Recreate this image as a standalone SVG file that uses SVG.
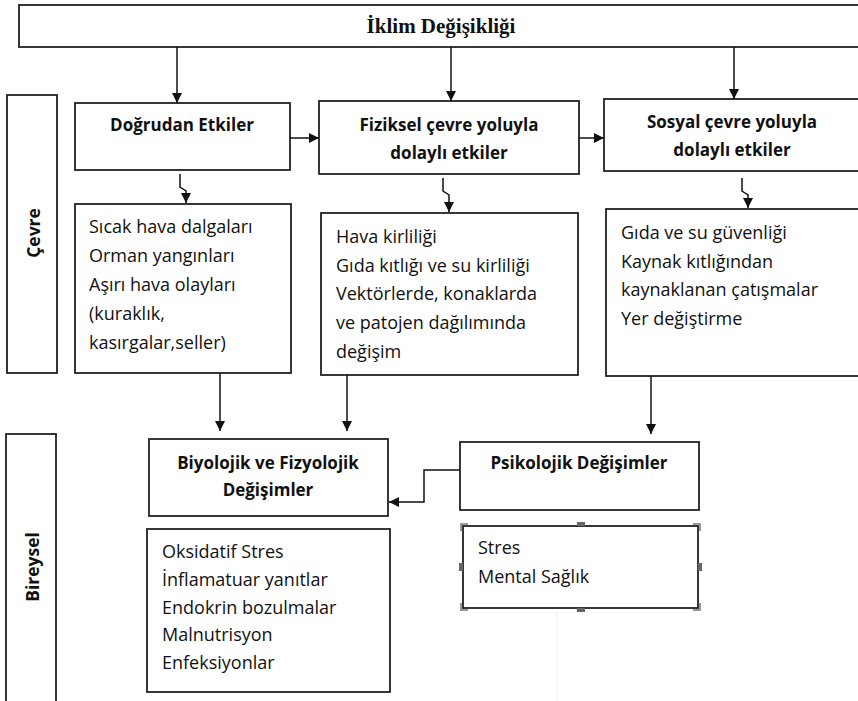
<svg xmlns="http://www.w3.org/2000/svg" width="858" height="701" viewBox="0 0 858 701">
<defs>
<marker id="ah" markerUnits="userSpaceOnUse" markerWidth="10" markerHeight="10" refX="10" refY="5" orient="auto">
<path d="M0,0 L10,5 L0,10 z" fill="#111"/>
</marker>
<style>
.box{fill:#fff;stroke:#222;stroke-width:1.8}
.side{fill:#fff;stroke:#222;stroke-width:1.8}
.h{font-family:"Open Sans","Liberation Sans",sans-serif;font-weight:bold;font-size:17px;fill:#111;text-anchor:middle}
.v{font-family:"Open Sans","Liberation Sans",sans-serif;font-weight:bold;font-size:17.5px;fill:#111;text-anchor:middle}
.t{font-family:"Open Sans","Liberation Sans",sans-serif;font-size:18px;fill:#111}
.title{font-family:"Liberation Serif","DejaVu Serif",serif;font-weight:bold;font-size:21px;fill:#111;text-anchor:middle}
.c{fill:none;stroke:#111;stroke-width:1.5}
.hd{fill:none;stroke:#777;stroke-width:1.5}
.hm{fill:#666}
</style>
</defs>
<rect width="858" height="701" fill="#fff"/>
<line x1="557" y1="612" x2="557" y2="701" stroke="#eee" stroke-width="1"/>

<g id="title">
<rect class="box" x="19" y="5" width="850" height="42"/>
<text class="title" x="441" y="33">İklim Değişikliği</text>
</g>

<g id="cevre">
<rect class="side" x="7" y="95" width="50" height="278"/>
<text class="v" transform="translate(40,233) rotate(-90)">Çevre</text>
</g>

<g id="bireysel">
<rect class="side" x="6" y="434" width="50" height="280"/>
<text class="v" transform="translate(39,567) rotate(-90)">Bireysel</text>
</g>

<g id="dogrudan">
<rect class="box" x="75" y="103" width="215" height="67"/>
<text class="h" x="182" y="131">Doğrudan Etkiler</text>
</g>

<g id="fiziksel">
<rect class="box" x="319" y="101" width="260" height="73"/>
<text class="h" x="449" y="131">Fiziksel çevre yoluyla</text>
<text class="h" x="449" y="159">dolaylı etkiler</text>
</g>

<g id="sosyal">
<rect class="box" x="604" y="99" width="270" height="72"/>
<text class="h" x="732" y="128">Sosyal çevre yoluyla</text>
<text class="h" x="732" y="156">dolaylı etkiler</text>
</g>

<g id="dogrudan-liste">
<rect class="box" x="75" y="204" width="216" height="169"/>
<text class="t" x="89" y="233">Sıcak hava dalgaları</text>
<text class="t" x="89" y="262">Orman yangınları</text>
<text class="t" x="89" y="291">Aşırı hava olayları</text>
<text class="t" x="89" y="320">(kuraklık,</text>
<text class="t" x="89" y="349">kasırgalar,seller)</text>
</g>

<g id="fiziksel-liste">
<rect class="box" x="321" y="213" width="257" height="162"/>
<text class="t" x="336" y="243">Hava kirliliği</text>
<text class="t" x="336" y="272">Gıda kıtlığı ve su kirliliği</text>
<text class="t" x="336" y="300">Vektörlerde, konaklarda</text>
<text class="t" x="336" y="329">ve patojen dağılımında</text>
<text class="t" x="336" y="358">değişim</text>
</g>

<g id="sosyal-liste">
<rect class="box" x="606" y="209" width="270" height="167"/>
<text class="t" x="621" y="239">Gıda ve su güvenliği</text>
<text class="t" x="621" y="268">Kaynak kıtlığından</text>
<text class="t" x="621" y="296">kaynaklanan çatışmalar</text>
<text class="t" x="621" y="325">Yer değiştirme</text>
</g>

<g id="biyolojik">
<rect class="box" x="149" y="439" width="239" height="77"/>
<text class="h" x="268" y="469">Biyolojik ve Fizyolojik</text>
<text class="h" x="268" y="496">Değişimler</text>
</g>

<g id="biyolojik-liste">
<rect class="box" x="147" y="529" width="243" height="163"/>
<text class="t" x="162" y="558">Oksidatif Stres</text>
<text class="t" x="162" y="586">İnflamatuar yanıtlar</text>
<text class="t" x="162" y="614">Endokrin bozulmalar</text>
<text class="t" x="162" y="641">Malnutrisyon</text>
<text class="t" x="162" y="669">Enfeksiyonlar</text>
</g>

<g id="psikolojik">
<rect class="box" x="460" y="442" width="239" height="68"/>
<text class="h" x="579" y="469">Psikolojik Değişimler</text>
</g>

<g id="psikolojik-liste">
<rect class="box" x="463" y="526" width="235" height="82"/>
<path class="hd" d="M461,531 V524 H468 M693,524 H700 V531 M461,603 V610 H468 M693,610 H700 V603"/>
<rect class="hm" x="577" y="522" width="8" height="4"/>
<rect class="hm" x="577" y="608" width="8" height="4"/>
<rect class="hm" x="459" y="563" width="4" height="8"/>
<rect class="hm" x="698" y="563" width="4" height="8"/>
<text class="t" x="478" y="554">Stres</text>
<text class="t" x="478" y="583">Mental Sağlık</text>
</g>

<g id="connectors">
<line class="c" x1="177" y1="47" x2="177" y2="103" marker-end="url(#ah)"/>
<line class="c" x1="451" y1="47" x2="451" y2="101" marker-end="url(#ah)"/>
<line class="c" x1="734" y1="47" x2="734" y2="99" marker-end="url(#ah)"/>
<line class="c" x1="290" y1="138" x2="319" y2="138" marker-end="url(#ah)"/>
<line class="c" x1="579" y1="138" x2="604" y2="138" marker-end="url(#ah)"/>
<path class="c" d="M180,174 V187 L183,189 L186,191 V203" marker-end="url(#ah)"/>
<path class="c" d="M443,178 V191 L446,193 L449,195 V212" marker-end="url(#ah)"/>
<path class="c" d="M742,178 V191 L745,193 L748,195 V208" marker-end="url(#ah)"/>
<line class="c" x1="220" y1="373" x2="220" y2="431" marker-end="url(#ah)"/>
<line class="c" x1="347" y1="375" x2="347" y2="431" marker-end="url(#ah)"/>
<line class="c" x1="651" y1="376" x2="651" y2="434" marker-end="url(#ah)"/>
<path class="c" d="M460,470 H424 V502 H389" marker-end="url(#ah)"/>
</g>
</svg>
